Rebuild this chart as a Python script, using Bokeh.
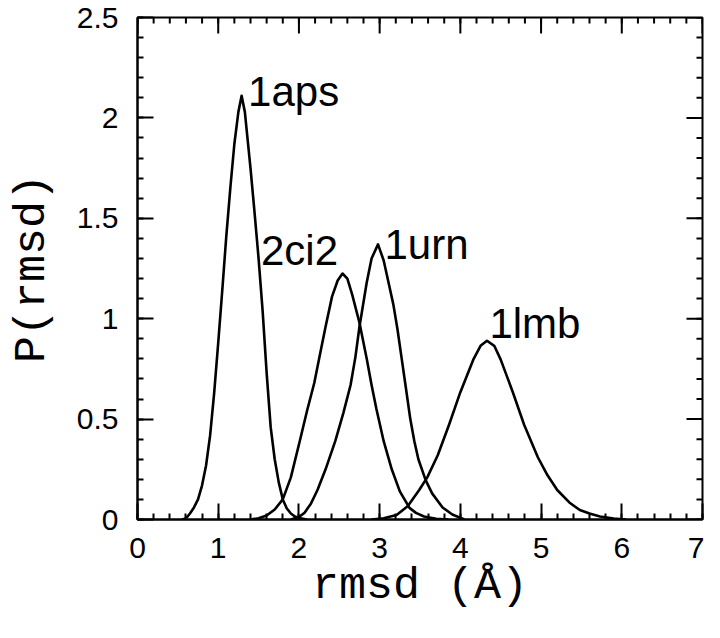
import math
from bokeh.plotting import figure
from bokeh.models import Range1d, FixedTicker, ColumnDataSource
from bokeh.core.properties import value
from bokeh.embed import file_html
from bokeh.resources import INLINE

# ---- data ----
x_1aps = [0.55, 0.60, 0.65, 0.70, 0.75, 0.80, 0.85, 0.90, 0.95, 1.00, 1.05, 1.10, 1.15, 1.20, 1.25,
          1.29, 1.33, 1.40, 1.45, 1.50, 1.55, 1.60, 1.65, 1.70, 1.75, 1.80, 1.85, 1.90, 1.95, 2.00, 2.10]
y_1aps = [0.0, 0.005, 0.03, 0.06, 0.10, 0.17, 0.27, 0.42, 0.63, 0.88, 1.14, 1.41, 1.65, 1.87, 2.03,
          2.11, 2.03, 1.75, 1.53, 1.30, 1.04, 0.73, 0.46, 0.30, 0.185, 0.10, 0.055, 0.03, 0.015, 0.007, 0.0]

x_2ci2 = [1.40, 1.50, 1.60, 1.70, 1.80, 1.90, 2.01, 2.10, 2.19, 2.25, 2.33, 2.41, 2.48, 2.54, 2.60,
          2.66, 2.75, 2.84, 2.90, 2.96, 3.05, 3.15, 3.25, 3.37, 3.45, 3.55, 3.70, 3.85]
y_2ci2 = [0.0, 0.006, 0.02, 0.05, 0.10, 0.21, 0.39, 0.54, 0.68, 0.80, 0.96, 1.11, 1.19, 1.225, 1.20,
          1.12, 0.98, 0.80, 0.67, 0.55, 0.39, 0.25, 0.14, 0.058, 0.033, 0.015, 0.004, 0.0]

x_1urn = [1.90, 2.00, 2.07, 2.15, 2.23, 2.33, 2.45, 2.55, 2.64, 2.70, 2.75, 2.84, 2.90, 2.98, 3.05,
          3.11, 3.17, 3.22, 3.27, 3.32, 3.38, 3.43, 3.48, 3.57, 3.65, 3.78, 3.90, 4.05]
y_1urn = [0.0, 0.012, 0.034, 0.08, 0.147, 0.25, 0.39, 0.53, 0.67, 0.81, 0.96, 1.18, 1.30, 1.37, 1.29,
          1.18, 1.07, 0.95, 0.81, 0.67, 0.50, 0.39, 0.30, 0.196, 0.13, 0.06, 0.025, 0.0]

x_1lmb = [2.90, 3.05, 3.21, 3.35, 3.49, 3.59, 3.72, 3.86, 4.00, 4.16, 4.25, 4.33, 4.42, 4.50, 4.65,
          4.79, 4.96, 5.08, 5.20, 5.35, 5.48, 5.60, 5.73, 5.90, 6.05]
y_1lmb = [0.0, 0.006, 0.022, 0.067, 0.147, 0.21, 0.32, 0.472, 0.634, 0.796, 0.865, 0.89, 0.865, 0.796, 0.634,
          0.472, 0.31, 0.22, 0.147, 0.085, 0.047, 0.03, 0.015, 0.005, 0.0]

curve_names = ["1aps", "2ci2", "1urn", "1lmb"]
label_x = [1.37, 1.53, 3.06, 4.36]
label_y = [2.13, 1.34, 1.37, 0.975]

x_ticks = [0, 1, 2, 3, 4, 5, 6, 7]
x_tick_labels = ["0", "1", "2", "3", "4", "5", "6", "7"]
y_ticks = [0, 0.5, 1, 1.5, 2, 2.5]
y_tick_labels = ["0", "0.5", "1", "1.5", "2", "2.5"]

x_title = "rmsd (Å)"
y_title = "P(rmsd)"

x_lo, x_hi = x_ticks[0], x_ticks[-1]
y_lo, y_hi = y_ticks[0], y_ticks[-1]

# ---- figure ----
p = figure(width=704, height=622, output_backend="svg", toolbar_location=None,
           x_range=Range1d(x_lo, x_hi), y_range=Range1d(y_lo, y_hi),
           min_border_left=137, min_border_right=2, min_border_top=17, min_border_bottom=103,
           background_fill_color="white", border_fill_color="white")
p.xgrid.visible = False
p.ygrid.visible = False
p.outline_line_color = "black"
p.outline_line_width = 2

minor_x = [round(i * 0.2, 2) for i in range(36)]
minor_y = [round(i * 0.1, 2) for i in range(26)]

def style(ax, ticks, minors, labels):
    ax.ticker = FixedTicker(ticks=ticks, minor_ticks=minors)
    ax.major_tick_in = 16
    ax.major_tick_out = 0
    ax.minor_tick_in = 6
    ax.minor_tick_out = 0
    ax.major_tick_line_width = 2
    ax.minor_tick_line_width = 2
    ax.major_tick_line_color = "black"
    ax.minor_tick_line_color = "black"
    ax.axis_line_width = 2
    ax.axis_line_color = "black"
    ax.major_label_overrides = dict(zip(ticks, labels))
    ax.major_label_text_font = "Liberation Sans"
    ax.major_label_text_font_size = "30px"
    ax.major_label_text_color = "black"
    ax.axis_label_text_font = "Liberation Mono"
    ax.axis_label_text_font_size = "45px"
    ax.axis_label_text_font_style = "normal"
    ax.axis_label_text_color = "black"

style(p.xaxis[0], x_ticks, minor_x, x_tick_labels)
p.xaxis[0].major_label_standoff = 18
p.xaxis[0].axis_label = x_title
p.xaxis[0].axis_label_standoff = 0
style(p.yaxis[0], y_ticks, minor_y, y_tick_labels)
p.yaxis[0].major_label_standoff = 19
p.yaxis[0].axis_label = y_title
p.yaxis[0].axis_label_standoff = 16

# mirrored ticks on the top and right edges of the frame (pixel lengths)
p.ray(x=x_ticks, y=[y_hi] * len(x_ticks), length=16, length_units="screen",
      angle=-math.pi / 2, line_color="black", line_width=2)
p.ray(x=minor_x, y=[y_hi] * len(minor_x), length=6, length_units="screen",
      angle=-math.pi / 2, line_color="black", line_width=2)
p.ray(x=[x_hi] * len(y_ticks), y=y_ticks, length=16, length_units="screen",
      angle=math.pi, line_color="black", line_width=2)
p.ray(x=[x_hi] * len(minor_y), y=minor_y, length=6, length_units="screen",
      angle=math.pi, line_color="black", line_width=2)

for xs, ys in [(x_1aps, y_1aps), (x_2ci2, y_2ci2), (x_1urn, y_1urn), (x_1lmb, y_1lmb)]:
    p.line(xs, ys, line_color="black", line_width=2.6, line_join="round")

src = ColumnDataSource(dict(x=label_x, y=label_y, t=curve_names))
p.text(x="x", y="y", text="t", source=src, text_font=value("Liberation Sans"),
       text_font_size="42px", text_color="black", text_align="left", text_baseline="alphabetic")

open("out.html", "w").write(file_html(p, INLINE))
